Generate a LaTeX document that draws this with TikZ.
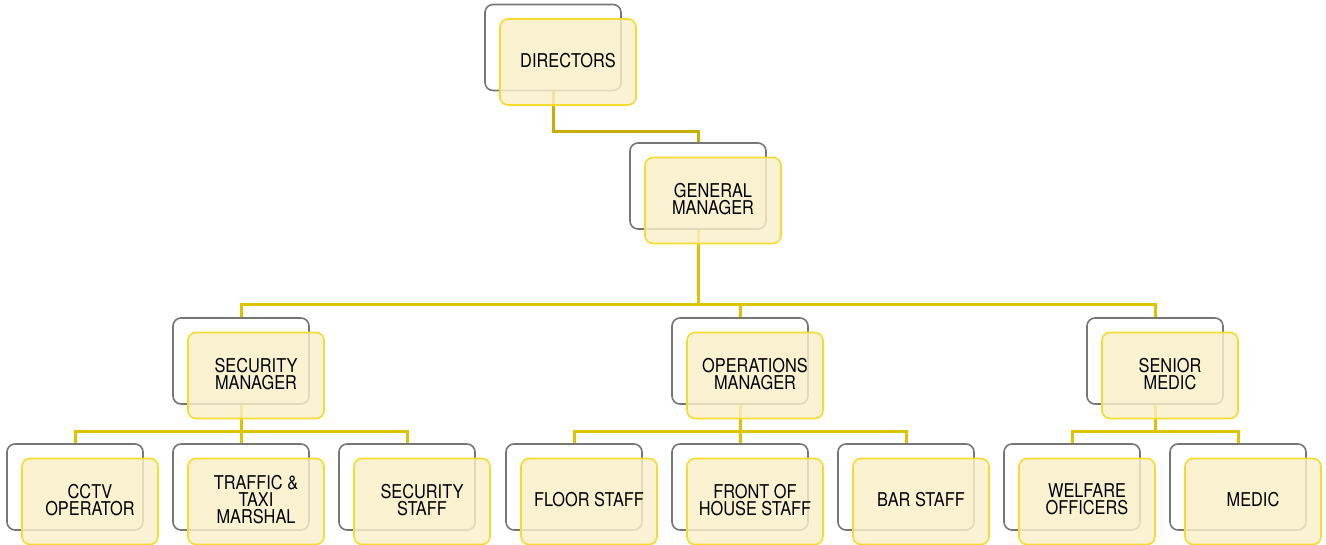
\documentclass[tikz,border=0pt]{standalone}
\usepackage{fontspec}
\setmainfont{TeX Gyre Heros}[FakeStretch=0.86]
\usepackage{tikz}
\usetikzlibrary{calc}
\usetikzlibrary{positioning}
\usetikzlibrary{backgrounds}
\definecolor{boxfill}{HTML}{F9EFC8}
\definecolor{boxline}{HTML}{F5DB30}
\definecolor{backline}{HTML}{767676}
\definecolor{linkgold}{HTML}{DCC400}
\definecolor{linkdark}{HTML}{C8AE00}
\tikzset{
  backbox/.style = {rectangle, rounded corners=8, draw=backline, line width=1.6, fill=white,
                    minimum width=136, minimum height=86, inner sep=0},
  frontbox/.style = {rectangle, rounded corners=8, draw=boxline, line width=1.6,
                     fill=boxfill, fill opacity=0.82, text opacity=1,
                     minimum width=136, minimum height=86, inner sep=0, text depth=4,
                     align=center, font=\fontsize{19}{17}\selectfont},
  link/.style = {-, draw=linkgold, line width=3}
}

\begin{document}
\begin{tikzpicture}[x=1pt, y=-1pt]
\useasboundingbox (0,0) rectangle (1326,544);
% back frames
\node [backbox] (dirB) at (553, 47.5) {};
\node [backbox] (gmB)  at (698, 186) {};
\node [backbox] (secB) at (241, 361) {};
\node [backbox] (opsB) at (740, 361) {};
\node [backbox] (smB)  at (1155, 361) {};
\node [backbox] (cctvB) at (75, 487) {};
\node [backbox] (taxiB) at (241, 487) {};
\node [backbox] (ssB)   at (407, 487) {};
\node [backbox] (floorB) at (574, 487) {};
\node [backbox] (fohB)   at (740, 487) {};
\node [backbox] (barB)   at (906, 487) {};
\node [backbox] (welfB)  at (1072, 487) {};
\node [backbox] (medB)   at (1238, 487) {};
% front cards
\node [frontbox] (dir) at ($(dirB)+(15,14.5)$) {DIRECTORS};
\node [frontbox] (gm)  at ($(gmB)+(15,14.5)$) {GENERAL\\MANAGER};
\node [frontbox] (sec) at ($(secB)+(15,14.5)$) {SECURITY\\MANAGER};
\node [frontbox] (ops) at ($(opsB)+(15,14.5)$) {OPERATIONS\\MANAGER};
\node [frontbox] (sm)  at ($(smB)+(15,14.5)$) {SENIOR\\MEDIC};
\node [frontbox] (cctv) at ($(cctvB)+(15,14.5)$) {CCTV\\OPERATOR};
\node [frontbox] (taxi) at ($(taxiB)+(15,14.5)$) {TRAFFIC \&\\TAXI\\MARSHAL};
\node [frontbox] (ss)   at ($(ssB)+(15,14.5)$) {SECURITY\\STAFF};
\node [frontbox] (floor) at ($(floorB)+(15,14.5)$) {FLOOR STAFF};
\node [frontbox] (foh)   at ($(fohB)+(15,14.5)$) {FRONT OF\\HOUSE STAFF};
\node [frontbox] (bar)   at ($(barB)+(15,14.5)$) {BAR STAFF};
\node [frontbox] (welf)  at ($(welfB)+(15,14.5)$) {WELFARE\\OFFICERS};
\node [frontbox] (med)   at ($(medB)+(15,14.5)$) {MEDIC};
% connectors
\begin{pgfonlayer}{background}
\draw [link, draw=linkdark] (dirB.south) -- ++(0,40) -| (gmB.north);
\draw [link] (gmB.south) -- ++(0,75) -| (secB.north);
\draw [link] (gmB.south) -- ++(0,75) -| (smB.north);
\draw [link] ($(gmB.south)+(0,75)$) -| (opsB.north);
\foreach \kid in {cctvB, taxiB, ssB} \draw [link] (secB.south) -- ++(0,27) -| (\kid.north);
\foreach \kid in {floorB, fohB, barB} \draw [link] (opsB.south) -- ++(0,27) -| (\kid.north);
\foreach \kid in {welfB, medB} \draw [link] (smB.south) -- ++(0,27) -| (\kid.north);
\end{pgfonlayer}
\end{tikzpicture}
\end{document}
